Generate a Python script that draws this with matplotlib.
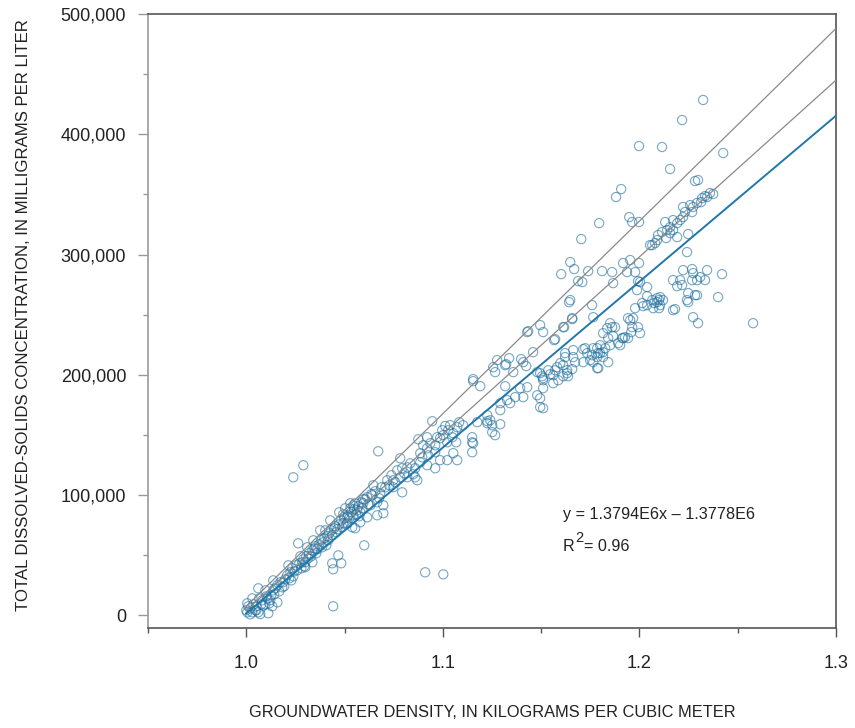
import matplotlib
matplotlib.use('Agg')
import matplotlib.pyplot as plt
from matplotlib.ticker import FuncFormatter, MultipleLocator
import numpy as np

plt.rcParams['font.family'] = ['Liberation Sans', 'DejaVu Sans']

# samples: density (as plotted on x) and TDS (mg/L)
fresh_density = [1.0000, 1.0005, 1.0010, 1.0020, 1.0031, 1.0036, 1.0046, 1.0051, 1.0061, 1.0066,
                 1.0071, 1.0081, 1.0086, 1.0097, 1.0102, 1.0112, 1.0122, 1.0127, 1.0132, 1.0137,
                 1.0147, 1.0158, 1.0158, 1.0173, 1.0183, 1.0198, 1.0208, 1.0214, 1.0224, 1.0234,
                 1.0239, 1.0254, 1.0270, 1.0275, 1.0280, 1.0290, 1.0300, 1.0305, 1.0320, 1.0336,
                 1.0341, 1.0346, 1.0356, 1.0371, 1.0376, 1.0381, 1.0397, 1.0402, 1.0407, 1.0422,
                 1.0427, 1.0432, 1.0447, 1.0458, 1.0473, 1.0473, 1.0483, 1.0498, 1.0503, 1.0509,
                 1.0514, 1.0519, 1.0529, 1.0534, 1.0549, 1.0554, 1.0559, 1.0570, 1.0585, 1.0595,
                 1.0031, 1.0061, 1.0137, 1.0097, 1.0336, 1.0300, 1.0386, 1.0005, 1.0020]
fresh_tds = [4200, 2500, 7500, 5800, 2500, 9200, 4200, 7500, 2500, 14100,
             1000, 12500, 8300, 20800, 15800, 1700, 12500, 16600, 7500, 20800,
             22500, 25000, 10800, 27500, 23300, 30000, 33300, 41600, 35800, 39100,
             32400, 41600, 43300, 49100, 39100, 46600, 44100, 49100, 51600, 54100,
             62400, 55700, 51600, 59100, 70700, 62400, 64100, 70700, 58200, 68200,
             79000, 70700, 72400, 69100, 75700, 85700, 79000, 80700, 89000, 75700,
             76500, 83200, 93200, 85700, 88200, 72400, 84000, 90700, 94000, 96500,
             14100, 22500, 29100, 9200, 44100, 40000, 56600, 10000, 800]

band_density = [1.0051, 1.0076, 1.0107, 1.0117, 1.0142, 1.0168, 1.0188, 1.0193, 1.0219, 1.0229,
                1.0244, 1.0259, 1.0285, 1.0295, 1.0315, 1.0330, 1.0351, 1.0361, 1.0392, 1.0412,
                1.0417, 1.0437, 1.0453, 1.0463, 1.0488, 1.0493, 1.0524, 1.0544, 1.0564, 1.0575,
                1.0590, 1.0605, 1.0620, 1.0636, 1.0656, 1.0676, 1.0687, 1.0727, 1.0738, 1.0758,
                1.0768, 1.0804, 1.0834, 1.0849, 1.0895, 1.0900, 1.0936, 1.0971, 1.1012, 1.1068,
                1.1083]
band_tds = [4200, 9200, 14100, 10000, 17500, 20000, 27500, 24200, 30800, 29100,
            36600, 37500, 44100, 40800, 47400, 49100, 57400, 54900, 60800, 65800,
            62400, 66600, 74100, 71600, 73200, 84000, 80700, 91500, 87400, 82400,
            89000, 96500, 92400, 100700, 103200, 97400, 106500, 108200, 116500, 110700,
            120600, 118100, 126400, 117300, 131400, 141400, 143100, 148100, 157400, 143900,
            160600]

outlier_density = [1.0239, 1.0290, 1.0671, 1.0442, 1.0910, 1.1002, 1.0600, 1.0468, 1.0437,
                   1.0483, 1.0442, 1.0264, 1.0310]
outlier_tds = [114800, 124800, 136400, 7500, 35800, 34100, 58200, 49900, 43300,
               43300, 38300, 59900, 56600]

mid_density = [1.0946, 1.1154, 1.1190, 1.1226, 1.1149, 1.1154, 1.1149, 1.1103, 1.1073, 1.0997,
               1.1027, 1.1053, 1.0986, 1.1022, 1.0961, 1.0920, 1.0885, 1.0925, 1.0961, 1.0986,
               1.1022, 1.0961, 1.0920, 1.0885, 1.0875, 1.0920, 1.0859, 1.0819, 1.0793, 1.0783,
               1.0819, 1.0859, 1.0748, 1.0717, 1.0707, 1.0748, 1.0793, 1.0681, 1.0646, 1.0641,
               1.0615, 1.0595, 1.0631, 1.0666, 1.0697, 1.0554, 1.0529, 1.0580, 1.0544, 1.0514,
               1.0615, 1.0666, 1.0697, 1.0580, 1.0493, 1.0539, 1.0783, 1.0870, 1.1053, 1.1073,
               1.1429, 1.1495, 1.1510, 1.1642, 1.1658, 1.1612, 1.1571, 1.1459, 1.1398, 1.1337,
               1.1276, 1.1256, 1.1322, 1.1424, 1.1358, 1.1266, 1.1154, 1.1317, 1.1480, 1.1505,
               1.1546, 1.1571, 1.1597, 1.1637, 1.1663, 1.1663, 1.1714, 1.1622, 1.1510, 1.1510,
               1.1561, 1.1587, 1.1429, 1.1393, 1.1368, 1.1409, 1.1327, 1.1292, 1.1342, 1.1495,
               1.1495, 1.1510, 1.1292, 1.1226, 1.1241, 1.1251, 1.1251, 1.1266, 1.1226, 1.1175,
               1.1292, 1.1149, 1.1037, 1.1048, 1.1002, 1.1673, 1.1480]
mid_tds = [161400, 194700, 190500, 161400, 148100, 143100, 135600, 158100, 156400, 153900,
           153900, 151400, 147300, 143900, 141400, 138900, 134800, 133100, 135600, 129000,
           129000, 122300, 124800, 127300, 146400, 148100, 122300, 123100, 122300, 114800,
           114800, 114800, 112300, 112300, 106500, 106500, 102300, 101500, 108200, 99800,
           98200, 93200, 91500, 94000, 91500, 93200, 89000, 85700, 83200, 81500,
           81500, 83200, 84900, 77400, 76500, 73200, 130600, 112300, 134800, 129000,
           235500, 241300, 235500, 260400, 247100, 239600, 229600, 218800, 213000, 213800,
           212200, 206300, 208800, 207200, 202200, 202200, 196400, 190500, 202200, 198800,
           200500, 203800, 209700, 198800, 220500, 214700, 221300, 218000, 195500, 188900,
           193000, 195500, 189700, 188900, 181400, 181400, 178900, 176400, 176400, 180500,
           173100, 172200, 170600, 166400, 162200, 158100, 152300, 149800, 159700, 160600,
           158900, 143900, 158100, 148100, 149800, 210500, 183000]

upper_density = [1.2324, 1.2217, 1.1998, 1.2115, 1.2426, 1.2156, 1.2283, 1.2298, 1.1907, 1.1881,
                 1.1948, 1.1963, 1.1998, 1.1795, 1.1704, 1.1648, 1.1602, 1.1668, 1.1739, 1.1810,
                 1.1861, 1.1917, 1.1953, 1.1998, 1.1978, 1.1937, 1.1709, 1.1688, 1.1866, 1.1993,
                 1.1648, 1.1759, 1.1765, 1.1658, 1.1617, 1.1434, 1.1566, 1.1409, 1.1317, 1.1988, 1.2039,
                 1.2375, 1.2334, 1.2319, 1.2293, 1.2273, 1.2258, 1.2268, 1.2232, 1.2222, 1.2207,
                 1.2192, 1.2171, 1.2156, 1.2131, 1.2141, 1.2115, 1.2095, 1.2171, 1.2192, 1.2080,
                 1.2054, 1.2248, 1.2242, 1.2136, 1.2344, 1.2359, 1.2314, 1.2222, 1.2156, 1.2065, 1.2090]
upper_tds = [428500, 411800, 390200, 389400, 384400, 371100, 361100, 361900, 354400, 347800,
             331100, 327000, 327000, 326100, 312800, 293700, 283700, 287900, 286200, 286200,
             285400, 292900, 295400, 292900, 285400, 285400, 277100, 277900, 276200, 277900,
             262100, 257900, 247900, 246300, 239600, 236300, 228800, 210500, 208000, 270400, 272900,
             350300, 348600, 346900, 342800, 339500, 341100, 335300, 335300, 331100, 328600,
             326100, 328600, 322800, 327000, 320300, 318700, 316200, 320300, 314500, 309500,
             307800, 317000, 302000, 313700, 347800, 351100, 343600, 339500, 317800, 307800, 312000]

lower_density = [1.2578, 1.2420, 1.2400, 1.2344, 1.2293, 1.2273, 1.2309, 1.2268, 1.2222, 1.2293,
                 1.2273, 1.2298, 1.2207, 1.2171, 1.2217, 1.2192, 1.2248, 1.2242, 1.2181, 1.2171,
                 1.2090, 1.2100, 1.2075, 1.2120, 1.2039, 1.2019, 1.2070, 1.2100, 1.1978, 1.1968,
                 1.1953, 1.1963, 1.1993, 1.2003, 1.1958, 1.1927, 1.1942, 1.1912, 1.1866, 1.1892,
                 1.1851, 1.1836, 1.1861, 1.1815, 1.1841, 1.1800, 1.1790, 1.1815, 1.1785, 1.1765,
                 1.1724, 1.1734, 1.1714, 1.1749, 1.1790, 1.1841, 1.1622, 1.1581, 1.1632, 1.1536,
                 1.1495, 1.1561, 1.1510, 1.2268, 1.2334, 1.2105, 1.2090, 1.2065, 1.2105, 1.2039,
                 1.2014, 1.1942, 1.2003, 1.1876, 1.1902, 1.1917, 1.1826, 1.1851, 1.1800, 1.1759,
                 1.1815, 1.1785, 1.1765, 1.1612, 1.1632, 1.1612, 1.1658, 1.1785, 1.2283, 1.2248]
lower_tds = [242900, 283700, 264600, 287000, 278700, 284500, 281200, 278700, 287000, 266200,
             247900, 242900, 278700, 278700, 274600, 273700, 267900, 262100, 254600, 253800,
             263700, 262100, 259600, 262100, 265400, 257100, 255400, 255400, 255400, 247100,
             245400, 239600, 239600, 234600, 235500, 231300, 230500, 230500, 232100, 226300,
             242900, 238800, 239600, 234600, 230500, 224600, 218000, 218800, 222100, 222100,
             222100, 218000, 210500, 212200, 205500, 210500, 214700, 206300, 203800, 203800,
             201300, 199700, 197200, 287900, 278700, 264600, 260400, 262100, 257900, 257900,
             259600, 247100, 277100, 239600, 224600, 230500, 222100, 224600, 218000, 216300,
             214700, 214700, 210500, 208000, 201300, 198800, 204700, 205500, 266200, 260400]

# regression and the two reference lines
slope = 1.3794e6
intercept = -1.3778e6
fit_range = [1.0, 1.3]
upper_ref_tds = [7500, 488000]
middle_ref_tds = [4200, 445000]

density = np.concatenate([fresh_density, band_density, outlier_density, mid_density,
                          upper_density, lower_density])
tds = np.concatenate([fresh_tds, band_tds, outlier_tds, mid_tds, upper_tds, lower_tds])

fig = plt.figure(figsize=(8.55, 7.28), dpi=100)
ax = fig.add_axes([0.1731, 0.1374, 0.8047, 0.8434])

ax.scatter(density, tds, s=44, facecolors='none', edgecolors='#1b6d9e', linewidths=0.8,
           alpha=0.6, zorder=2)

ax.plot(fit_range, upper_ref_tds, color='#8a8a8a', lw=0.9, zorder=3)
ax.plot(fit_range, middle_ref_tds, color='#8a8a8a', lw=0.9, zorder=3)
x_fit = np.array(fit_range)
ax.plot(x_fit, slope * x_fit + intercept, color='#1f77aa', lw=1.4, zorder=4)

ax.set_xlim(0.95, 1.3)
ax.set_ylim(-10500, 500000)

ax.xaxis.set_major_locator(MultipleLocator(0.1))
ax.xaxis.set_minor_locator(MultipleLocator(0.05))
ax.yaxis.set_major_locator(MultipleLocator(100000))
ax.yaxis.set_minor_locator(MultipleLocator(50000))
ax.xaxis.set_major_formatter(FuncFormatter(lambda v, p: '%.1f' % v))
ax.yaxis.set_major_formatter(FuncFormatter(lambda v, p: '{:,.0f}'.format(v)))

ax.tick_params(axis='x', which='major', direction='out', length=6.5, width=1, color='#555555',
               pad=13, labelsize=13, labelcolor='#222222')
ax.tick_params(axis='x', which='minor', direction='out', length=3.6, width=1, color='#555555')
ax.tick_params(axis='y', which='major', direction='out', length=7.2, width=1, color='#999999',
               pad=8.5, labelsize=13, labelcolor='#222222')
ax.tick_params(axis='y', which='minor', direction='out', length=3.6, width=1, color='#999999')

# no tick at the left corner
for t in ax.xaxis.get_minor_ticks():
    if abs(t.get_loc() - 0.95) < 1e-6:
        t.tick1line.set_visible(False)

for side in ['top', 'bottom', 'right']:
    ax.spines[side].set_color('#555555')
    ax.spines[side].set_linewidth(1.2)
ax.spines['left'].set_color('#999999')
ax.spines['left'].set_linewidth(1.2)

ax.set_xlabel('GROUNDWATER DENSITY, IN KILOGRAMS PER CUBIC METER', fontsize=11.8, color='#222222')
ax.set_ylabel('TOTAL DISSOLVED-SOLIDS CONCENTRATION, IN MILLIGRAMS PER LITER', fontsize=12.1,
              color='#222222')
ax.xaxis.set_label_coords(0.501, -0.125)
ax.yaxis.set_label_coords(-0.17, 0.51)

ax.text(0.603, 0.184, 'y = 1.3794E6x \u2013 1.3778E6', transform=ax.transAxes, fontsize=11.6,
        color='#222222', va='center', ha='left')
ax.text(0.603, 0.132, 'R', transform=ax.transAxes, fontsize=11.6, color='#222222',
        va='center', ha='left')
ax.text(0.621, 0.146, '2', transform=ax.transAxes, fontsize=10.5, color='#222222',
        va='center', ha='left')
ax.text(0.633, 0.132, '= 0.96', transform=ax.transAxes, fontsize=11.6, color='#222222',
        va='center', ha='left')

fig.savefig('out.png', dpi=100)
